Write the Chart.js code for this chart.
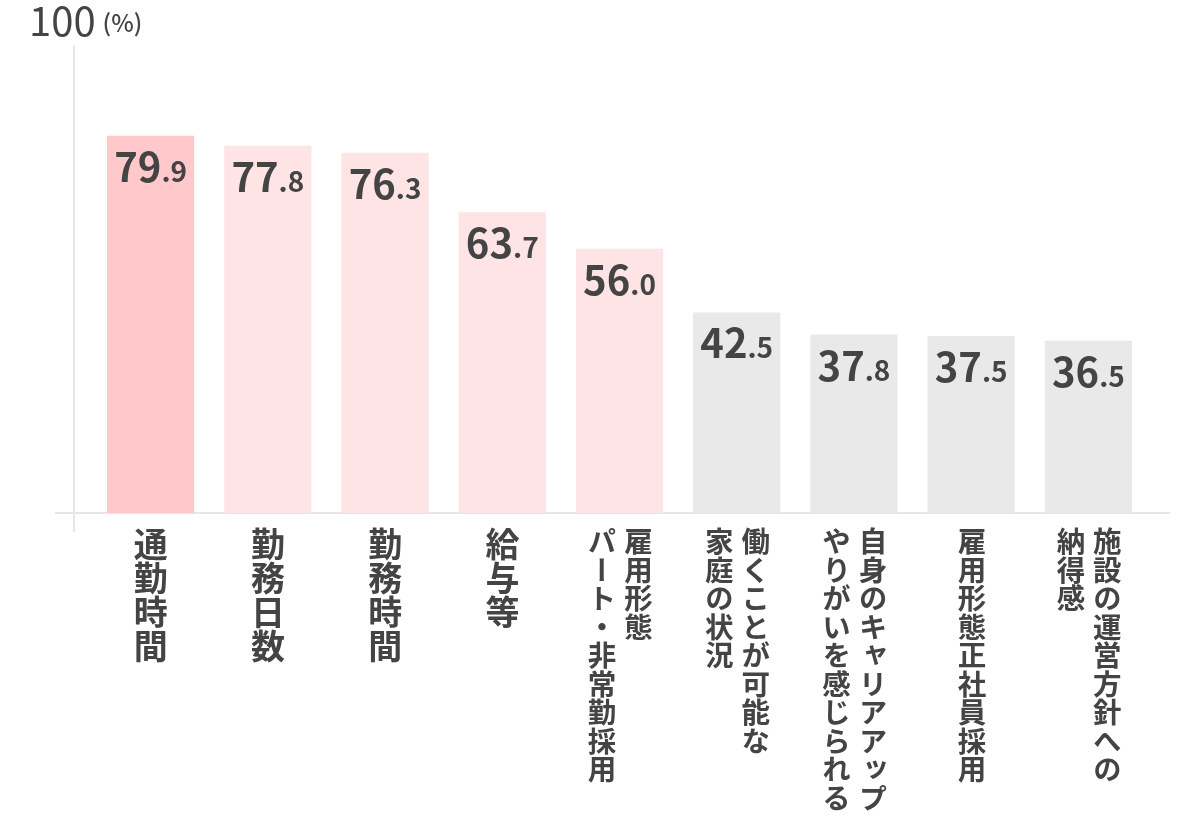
<!DOCTYPE html>
<html lang="ja">
<head>
<meta charset="utf-8">
<script src="https://cdn.jsdelivr.net/npm/chart.js@4/dist/chart.umd.min.js"></script>
<style>
  html, body { margin: 0; padding: 0; background: #fff; }
  #wrap { position: relative; width: 1200px; height: 816px; }
  .cat {
    position: absolute;
    writing-mode: vertical-rl;
    text-orientation: mixed;
    font-family: "Noto Sans CJK JP", "Noto Sans", sans-serif;
    font-weight: 700;
    color: #444;
    line-height: 1.28;
    white-space: nowrap;
    transform: translateX(-50%);
  }
</style>
</head>
<body>
<div id="wrap">
  <canvas id="chart" width="1200" height="816"></canvas>
</div>
<script>
// Category labels, each inner array is one vertical column (right to left)
const categories = [
  ['通勤時間'],
  ['勤務日数'],
  ['勤務時間'],
  ['給与等'],
  ['雇用形態', 'パート・非常勤採用'],
  ['働くことが可能な', '家庭の状況'],
  ['自身のキャリアアップ', 'やりがいを感じられる'],
  ['雇用形態正社員採用'],
  ['施設の運営方針への', '納得感']
];
const values = [79.9, 77.8, 76.3, 63.7, 56.0, 42.5, 37.8, 37.5, 36.5];
const yMax = 100;
const yUnit = '(%)';

// bar colours: top item, other pink items, grey items
const barColors = ['#ffc8cb', '#fee4e5', '#fee4e5', '#fee4e5', '#fee4e5',
                   '#e9e9e9', '#e9e9e9', '#e9e9e9', '#e9e9e9'];

const textColor = '#444';
const fontFamily = '"Noto Sans CJK JP", "Noto Sans", sans-serif';

// Custom axis lines, value labels and the "100 (%)" caption
const decorPlugin = {
  id: 'decor',
  beforeDatasetsDraw(chart) {
    const ctx = chart.ctx;
    const area = chart.chartArea;
    const y = chart.scales.y;
    const base = y.getPixelForValue(0);
    ctx.save();
    ctx.strokeStyle = '#e6e6e6';
    ctx.lineWidth = 2;
    ctx.beginPath();
    ctx.moveTo(area.left - 18, y.getPixelForValue(yMax) + 4);
    ctx.lineTo(area.left - 18, base + 19);
    ctx.moveTo(area.left - 37, base);
    ctx.lineTo(area.right + 23, base);
    ctx.stroke();

    ctx.fillStyle = textColor;
    ctx.textBaseline = 'alphabetic';
    ctx.textAlign = 'left';
    ctx.font = '400 40px ' + fontFamily;
    const top = y.getPixelForValue(yMax);
    ctx.fillText(String(yMax), 29, top - 5);
    const w = ctx.measureText(String(yMax)).width;
    ctx.font = '500 24px ' + fontFamily;
    ctx.fillText(yUnit, 29 + w + 7, top - 9);
    ctx.restore();
  },
  afterDatasetsDraw(chart) {
    const ctx = chart.ctx;
    const meta = chart.getDatasetMeta(0);
    ctx.save();
    ctx.fillStyle = textColor;
    ctx.textBaseline = 'alphabetic';
    ctx.textAlign = 'left';
    meta.data.forEach((bar, i) => {
      const parts = values[i].toFixed(1).split('.');
      const big = parts[0];
      const small = '.' + parts[1];
      ctx.font = '700 40px ' + fontFamily;
      const wb = ctx.measureText(big).width;
      ctx.font = '700 28px ' + fontFamily;
      const ws = ctx.measureText(small).width;
      const x0 = bar.x - (wb + ws) / 2;
      const by = bar.y + 46;
      ctx.font = '700 40px ' + fontFamily;
      ctx.fillText(big, x0, by);
      ctx.font = '700 28px ' + fontFamily;
      ctx.fillText(small, x0 + wb, by);
    });
    ctx.restore();
  },
  afterRender(chart) {
    const wrap = document.getElementById('wrap');
    wrap.querySelectorAll('.cat').forEach(el => el.remove());
    const x = chart.scales.x;
    const base = chart.scales.y.getPixelForValue(0);
    categories.forEach((cols, i) => {
      const el = document.createElement('div');
      el.className = 'cat';
      const single = cols.length === 1 && cols[0].length <= 4;
      el.style.fontSize = (single ? 34 : 28.5) + 'px';
      el.innerHTML = cols.join('<br>');
      el.style.left = x.getPixelForValue(i) + 'px';
      el.style.top = (base + 14) + 'px';
      wrap.appendChild(el);
    });
  }
};

new Chart(document.getElementById('chart'), {
  type: 'bar',
  data: {
    labels: categories.map(c => c.join('')),
    datasets: [{
      data: values,
      backgroundColor: barColors,
      borderWidth: 0,
      categoryPercentage: 1,
      barPercentage: 0.744
    }]
  },
  options: {
    responsive: false,
    animation: false,
    devicePixelRatio: 1,
    layout: {
      padding: { left: 92, right: 53, top: 41, bottom: 303 }
    },
    scales: {
      x: { display: false },
      y: { display: false, min: 0, max: yMax }
    },
    plugins: {
      legend: { display: false },
      tooltip: { enabled: false }
    }
  },
  plugins: [decorPlugin]
});
</script>
</body>
</html>
